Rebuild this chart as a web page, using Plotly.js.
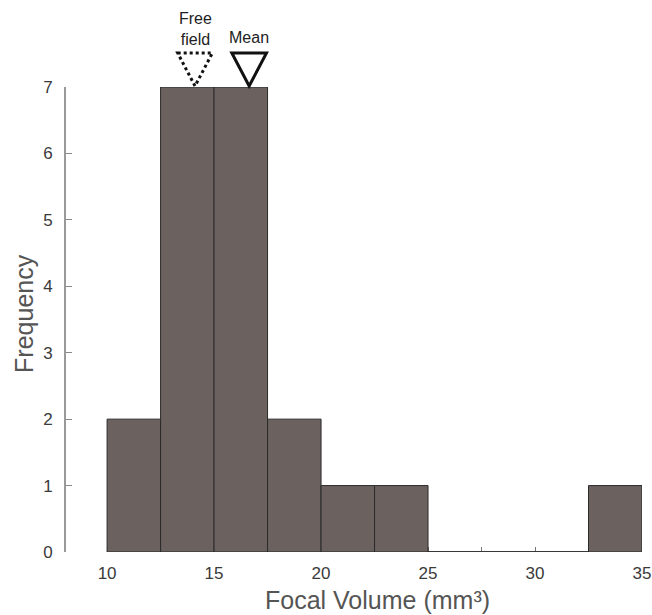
<!DOCTYPE html>
<html><head><meta charset="utf-8">
<script src="https://cdn.plot.ly/plotly-3.0.1.min.js"></script>
<style>html,body{margin:0;padding:0;background:#fff}</style>
</head><body>
<div id="chart" style="width:652px;height:615px"></div>
<script>
// Data
var binEdges = [10, 12.5, 15, 17.5, 20, 22.5, 25, 27.5, 30, 32.5, 35];
var counts = [2, 7, 7, 2, 1, 1, 0, 0, 0, 1];
var freeFieldValue = 14.11;
var meanValue = 16.64;
var xTickLabels = ['10', '15', '20', '25', '30', '35'];
var yTickVals = [0, 1, 2, 3, 4, 5, 6, 7];

var centers = [], widths = [];
for (var i = 0; i < counts.length; i++) {
  centers.push((binEdges[i] + binEdges[i + 1]) / 2);
  widths.push(binEdges[i + 1] - binEdges[i]);
}

// zero-count bins drawn as baseline segments
var zx = [], zy = [];
for (var j = 0; j < counts.length; j++) {
  if (counts[j] === 0) {
    zx.push(binEdges[j], binEdges[j + 1], null);
    zy.push(0, 0, null);
  }
}

var tickVals = [], tickText = [];
for (var k = 0; k < binEdges.length; k++) {
  tickVals.push(binEdges[k]);
  var lbl = String(binEdges[k]);
  tickText.push(xTickLabels.indexOf(lbl) >= 0 ? lbl : '');
}

var traces = [
  {
    type: 'bar', x: centers, y: counts, width: widths,
    marker: { color: '#6b625f', line: { color: '#2b2b2b', width: 1 } },
    hoverinfo: 'skip'
  },
  {
    type: 'scatter', mode: 'lines', x: zx, y: zy,
    line: { color: '#2b2b2b', width: 1.5 }, hoverinfo: 'skip', cliponaxis: false
  }
];

function tri(xc, dash, w) {
  var hw = 0.81;
  return {
    type: 'path', xref: 'x', yref: 'paper',
    path: 'M ' + (xc - hw) + ' 1.073 L ' + (xc + hw) + ' 1.073 L ' + xc + ' 1.002 Z',
    line: { color: '#111', width: w, dash: dash }
  };
}

var layout = {
  width: 652, height: 615,
  margin: { l: 66, r: 10, t: 87, b: 63 },
  paper_bgcolor: '#fff', plot_bgcolor: '#fff',
  showlegend: false,
  bargap: 0,
  font: { family: 'Liberation Sans, Arial, sans-serif', color: '#444' },
  xaxis: {
    range: [8.08, 35], autorange: false,
    tickmode: 'array', tickvals: tickVals, ticktext: tickText,
    ticks: 'inside', ticklen: 5, tickwidth: 1, tickcolor: '#777',
    showline: false, showgrid: false, zeroline: false,
    tickfont: { size: 17, color: '#3a3a3a' },
    ticklabelstandoff: 9,
    layer: 'below traces'
  },
  yaxis: {
    range: [0, 7], autorange: false,
    tickmode: 'array', tickvals: yTickVals,
    ticks: 'inside', ticklen: 6, tickwidth: 1, tickcolor: '#888',
    showline: true, linecolor: '#999', linewidth: 2,
    showgrid: false, zeroline: false,
    tickfont: { size: 17, color: '#3a3a3a' },
    ticklabelstandoff: 8
  },
  shapes: [tri(freeFieldValue, 'dot', 3), tri(meanValue, 'solid', 3)],
  annotations: [
    { xref: 'x', yref: 'paper', x: freeFieldValue, y: 1.1247, text: 'Free<br>field',
      showarrow: false, yanchor: 'middle', font: { size: 16, color: '#222' } },
    { xref: 'x', yref: 'paper', x: meanValue, y: 1.1054, text: 'Mean',
      showarrow: false, yanchor: 'middle', font: { size: 16, color: '#222' } },
    { xref: 'paper', yref: 'paper', x: 0.54, y: -0.1032, text: 'Focal Volume (mm³)',
      showarrow: false, xanchor: 'center', yanchor: 'middle', font: { size: 25, color: '#555' } },
    { xref: 'paper', yref: 'paper', x: -0.0729, y: 0.512, text: 'Frequency', textangle: -90,
      showarrow: false, xanchor: 'center', yanchor: 'middle', font: { size: 25, color: '#555' } }
  ]
};

Plotly.newPlot('chart', traces, layout, { displayModeBar: false, staticPlot: true });
</script>
</body></html>
